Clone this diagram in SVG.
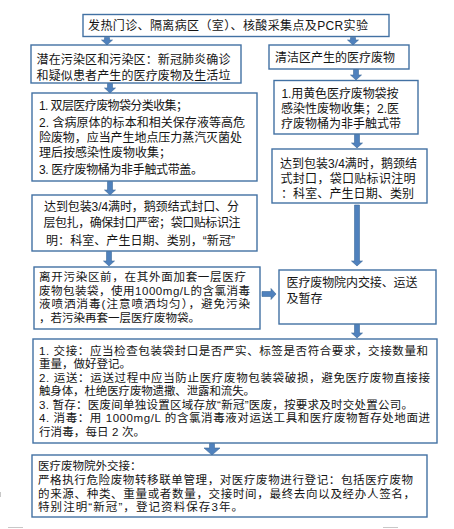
<svg xmlns="http://www.w3.org/2000/svg" width="454" height="529" viewBox="0 0 454 529">
<style>
.box{fill:#ffffff;stroke:#4271a3;stroke-width:1.4}
.arr{fill:#4f81bd;stroke:#3d6a99;stroke-width:0.6}
text{font-family:"Liberation Sans","Noto Sans CJK SC",sans-serif;font-size:12px;fill:#141414}
.sm{font-size:11.5px}
.mark{stroke:#c8c8c8;stroke-width:1}
</style>
<rect width="454" height="529" fill="#ffffff"/>
<g id="connectors">
<path class="arr" d="M104.5,37.5 H109.5 V40 H112.5 L107,45 L101.5,40 H104.5 Z"/>
<path class="arr" d="M350.5,37.5 H355.5 V40 H358.5 L353,45 L347.5,40 H350.5 Z"/>
<path class="arr" d="M353.5,69.5 H358.5 V75 H361.5 L356,80 L350.5,75 H353.5 Z"/>
<path class="arr" d="M354.5,134.5 H359.5 V143 H362.5 L357,148 L351.5,143 H354.5 Z"/>
<path class="arr" d="M107.5,83.5 H112.5 V88 H115.5 L110,93 L104.5,88 H107.5 Z"/>
<path class="arr" d="M107.5,181.5 H112.5 V190 H115.5 L110,195 L104.5,190 H107.5 Z"/>
<path class="arr" d="M106.5,251.5 H111.5 V261 H114.5 L109,266 L103.5,261 H106.5 Z"/>
<path class="arr" d="M354.5,205 H359.5 V261 H362.5 L357,266 L351.5,261 H354.5 Z"/>
<path class="arr" d="M262,291.5 V296.5 H271 V299.5 L276,294 L271,288.5 V291.5 Z"/>
<path class="arr" d="M354.5,324.5 H359.5 V333 H362.5 L357,338 L351.5,333 H354.5 Z"/>
<path class="arr" d="M209.5,443.5 H214.5 V448 H220 L212,455 L204,448 H209.5 Z"/>
</g>
<g id="n1">
<rect class="box" x="83" y="14.5" width="306" height="22"/>
<text x="88" y="29.5" textLength="280">发热门诊、隔离病区（室）、核酸采集点及PCR实验</text>
</g>
<g id="n2">
<rect class="box" x="31" y="45" width="210" height="38"/>
<text x="36.5" y="64" textLength="194">潜在污染区和污染区：新冠肺炎确诊</text>
<text x="36.5" y="79.5" textLength="194">和疑似患者产生的医疗废物及生活垃</text>
</g>
<g id="n3">
<rect class="box" x="269" y="45" width="140" height="24"/>
<text x="275" y="61.5">清洁区产生的医疗废物</text>
</g>
<g id="n4">
<rect class="box" x="274" y="80.5" width="144" height="53.5"/>
<text x="281.5" y="98" textLength="117">1.用黄色医疗废物袋按</text>
<text x="281" y="113" textLength="118">感染性废物收集；2.医</text>
<text x="281" y="128" textLength="120">疗废物桶为非手触式带</text>
</g>
<g id="n5">
<rect class="box" x="272" y="149" width="155" height="54"/>
<text x="280" y="167.5" textLength="137">达到包装3/4满时，鹅颈结</text>
<text x="280.5" y="183" textLength="135">式封口，袋口贴标识注明</text>
<text x="281" y="198" textLength="133">：科室、产生日期、类别</text>
</g>
<g id="n6">
<rect class="box" x="32" y="93" width="225" height="88"/>
<text x="39" y="109.5" textLength="149">1. 双层医疗废物袋分类收集；</text>
<text x="39" y="126.5" textLength="206">2. 含病原体的标本和相关保存液等高危</text>
<text x="39" y="141.5" textLength="203">险废物，应当产生地点压力蒸汽灭菌处</text>
<text x="39" y="156.5">理后按感染性废物收集；</text>
<text x="39" y="173.5" textLength="164">3. 医疗废物桶为非手触式带盖。</text>
</g>
<g id="n7">
<rect class="box" x="32" y="195" width="225" height="56"/>
<text x="44" y="210.5" textLength="195">达到包装3/4满时，鹅颈结式封口、分</text>
<text x="43.5" y="227" textLength="197">层包扎，确保封口严密；袋口贴标识注</text>
<text x="46" y="244.5" textLength="189">明：科室、产生日期、类别，“新冠”</text>
</g>
<g id="n8">
<rect class="box" x="34" y="267" width="226" height="62"/>
<text class="sm" x="39" y="281" textLength="207">离开污染区前，在其外面加套一层医疗</text>
<text class="sm" x="39" y="294.5" textLength="211">废物包装袋，使用1000mg/L的含氯消毒</text>
<text class="sm" x="39" y="308" textLength="211">液喷洒消毒(注意喷洒均匀），避免污染</text>
<text class="sm" x="39" y="321.5" textLength="161">，若污染再套一层医疗废物袋。</text>
</g>
<g id="n9">
<rect class="box" x="279" y="270" width="157" height="54"/>
<text x="286.5" y="286.5" textLength="131">医疗废物院内交接、运送</text>
<text x="286.5" y="303">及暂存</text>
</g>
<g id="n10">
<rect class="box" x="33" y="339" width="404" height="104"/>
<text class="sm" x="39" y="354.5" textLength="389">1. 交接：应当检查包装袋封口是否严实、标签是否符合要求，交接数量和</text>
<text class="sm" x="39" y="368">重量，做好登记。</text>
<text class="sm" x="39" y="381.5" textLength="391">2. 运送：运送过程中应当防止医疗废物包装袋破损，避免医疗废物直接接</text>
<text class="sm" x="39" y="395" textLength="216">触身体，杜绝医疗废物遗撒、泄露和流失。</text>
<text class="sm" x="39" y="408.5" textLength="374">3. 暂存：医废间单独设置区域存放“新冠”医废，按要求及时交处置公司。</text>
<text class="sm" x="39" y="422" textLength="391">4. 消毒：用 1000mg/L 的含氯消毒液对运送工具和医疗废物暂存处地面进</text>
<text class="sm" x="39" y="435.5" textLength="106">行消毒，每日 2 次。</text>
</g>
<g id="n11">
<rect class="box" x="32" y="455" width="395" height="62"/>
<text class="sm" x="38" y="470">医疗废物院外交接：</text>
<text class="sm" x="38" y="484" textLength="375">严格执行危险废物转移联单管理，对医疗废物进行登记：包括医疗废物</text>
<text class="sm" x="38" y="497.5" textLength="377">的来源、种类、重量或者数量，交接时间，最终去向以及经办人签名，</text>
<text class="sm" x="38" y="511" textLength="205">特别注明“新冠”，登记资料保存3年。</text>
</g>
<line class="mark" x1="8" y1="527.5" x2="23" y2="527.5"/>
<line class="mark" x1="383" y1="527.5" x2="398" y2="527.5"/>
<line class="mark" x1="0.5" y1="492" x2="0.5" y2="497"/>
</svg>
